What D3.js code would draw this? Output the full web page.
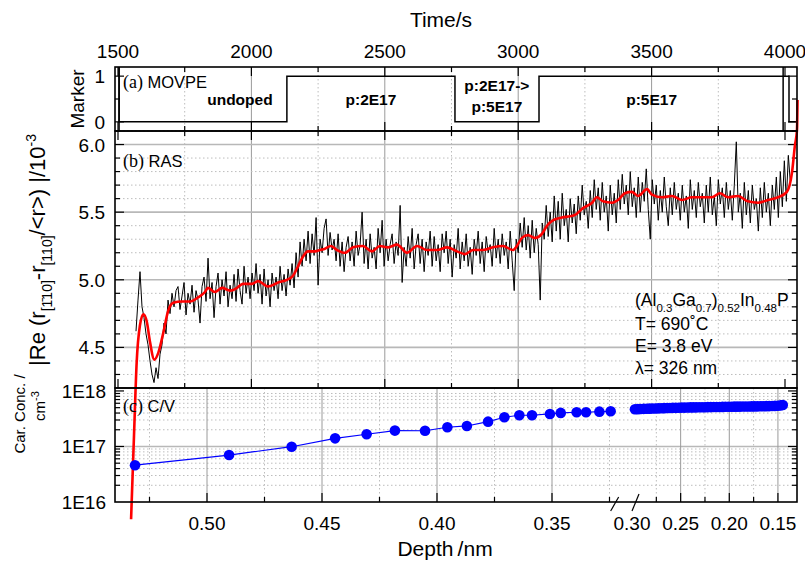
<!DOCTYPE html>
<html>
<head>
<meta charset="utf-8">
<script src="https://cdn.jsdelivr.net/npm/d3@7"></script>
<style>
  body { margin: 0; background: #fff; }
  text { font-family: "Liberation Sans", Arial, sans-serif; fill: #000; }
</style>
</head>
<body>
<svg id="chart" width="805" height="563"></svg>
<script>
// ---- data ----

// panel (a): growth marker (time in s, marker value)
const markerTime = [1504, 1504, 2133, 2763, 3078, 4015, 4045];
const markerValue = [1.2, 0, 1, 0, 1, 0, 0];
const markerEdges = [1504, 3993];
const markerLabels = [
  { t: 1957, lines: ["undoped"] },
  { t: 2448, lines: ["p:2E17"] },
  { t: 2920, lines: ["p:2E17->", "p:5E17"] },
  { t: 3500, lines: ["p:5E17"] }
];

// panel (b): raw RAS signal, sampled every rasStep seconds from rasStart
const rasStart = 1567.5, rasStep = 7.5;
const rasRaw = [
  4.62, 4.85, 5.06, 4.80, 4.72, 4.60, 4.52, 4.40, 4.30, 4.24,
  4.35, 4.27, 4.45, 4.52, 4.68, 4.60, 4.85, 4.75, 4.90, 4.80, 4.92,
  4.95, 4.78, 4.88, 4.98, 4.74, 4.90, 4.82, 4.96, 4.76, 4.92,
  4.85, 4.68, 4.95, 5.02, 4.84, 5.16, 4.86, 4.98, 4.72, 4.95,
  5.05, 4.82, 5.00, 4.88, 5.06, 4.80, 4.96, 4.86, 5.04, 4.84,
  5.08, 4.92, 4.82, 5.10, 4.90, 5.02, 4.86, 5.05, 4.92, 5.12,
  4.90, 5.04, 4.82, 5.08, 4.88, 5.00, 4.80, 5.05, 4.92, 5.02,
  4.86, 5.10, 4.92, 5.04, 4.88, 5.08, 4.96, 5.12, 4.94, 5.20,
  5.02, 5.28, 5.10, 5.30, 5.14, 5.36, 5.12, 5.34, 5.18, 5.46,
  4.96, 5.30, 5.20, 5.38, 5.45, 5.18, 5.35, 5.22, 5.30, 5.14,
  5.34, 5.10, 5.28, 5.06, 5.24,
  5.32, 5.14, 5.28, 5.10, 5.36, 5.18, 5.26, 5.50, 5.12, 5.30,
  5.08, 5.34, 5.16, 5.24, 5.08, 5.38, 5.20, 5.44, 5.10, 5.30,
  5.14, 5.26, 5.34, 5.12, 5.28, 5.18, 5.55, 4.98, 5.24, 5.10,
  5.32, 5.16, 5.38, 5.08, 5.26, 5.34, 5.12, 5.30, 5.06, 5.28,
  5.18, 5.36, 5.10, 5.32, 5.14, 5.26, 5.06, 5.34, 5.20, 5.36,
  5.12, 5.30, 5.02, 5.26, 5.16, 5.38, 5.08, 5.28, 5.14, 5.34,
  5.10, 5.24, 5.04, 5.30, 5.18, 5.36, 5.12, 5.28, 5.06, 5.32,
  5.20, 5.26, 5.10, 5.38, 5.16, 5.30, 5.12, 5.34, 5.18, 5.28,
  5.08, 5.36, 5.14, 4.92, 5.30, 5.20, 5.42,
  5.24, 5.46, 5.22, 5.40, 5.16, 5.44, 5.20, 5.38, 5.26, 4.85,
  5.42, 5.30, 5.55, 5.32, 5.50, 5.28, 5.62, 5.36, 5.58, 5.30,
  5.64, 5.40, 5.52, 5.28, 5.60,
  5.42, 5.56, 5.34, 5.62, 5.44, 5.70, 5.48, 5.58, 5.38, 5.66,
  5.46, 5.74, 5.52, 5.68, 5.44, 5.72, 5.50, 5.62, 5.36, 5.70,
  5.48, 5.64, 5.42, 5.74, 5.52, 5.78, 5.56, 5.70, 5.48, 5.80,
  5.54, 5.68, 5.46, 5.76, 5.50, 5.72, 5.58, 5.82, 5.52, 5.30,
  5.74, 5.56, 5.70, 5.44, 5.66, 5.50, 5.76, 5.54, 5.40, 5.68,
  5.48, 5.72, 5.52, 5.64, 5.44, 5.70, 5.50, 5.62, 5.38, 5.74,
  5.52, 5.66, 5.46, 5.72, 5.54, 5.64, 5.42, 5.70, 5.50, 5.76,
  5.48, 5.62, 5.40, 5.74, 5.56, 5.68, 5.46, 5.72, 5.52, 5.66,
  5.44, 5.70, 6.02, 5.50, 5.64, 5.38, 5.72, 5.48, 5.66, 5.42,
  5.70, 5.52, 5.60, 5.36, 5.68, 5.46, 5.72, 5.50, 5.64, 5.40,
  5.70, 5.52, 5.76, 5.46, 5.80, 5.54, 5.88, 5.58, 5.92, 5.72
];

// panel (b): smoothed RAS (red)
const smoothTime = [1549, 1560, 1570, 1582, 1595, 1608, 1620, 1636, 1651, 1670,
  1688, 1707, 1739, 1770, 1800, 1826, 1837, 1863, 1890, 1920,
  1946, 1968, 2002, 2025, 2062, 2100, 2133, 2156, 2175, 2193,
  2212, 2238, 2257, 2276, 2298, 2321, 2351, 2381, 2418, 2452,
  2482, 2512, 2546, 2583, 2621, 2658, 2696, 2733, 2771, 2801,
  2831, 2868, 2905, 2943, 2980, 2995, 3014, 3037, 3063, 3089,
  3108, 3130, 3164, 3194, 3213, 3243, 3277, 3295, 3318, 3352,
  3374, 3400, 3426, 3449, 3483, 3501, 3539, 3576, 3614, 3651,
  3689, 3726, 3756, 3786, 3824, 3861, 3899, 3936, 3974, 4007,
  4026, 4037, 4045, 4047];
const smoothValue = [3.23, 3.85, 4.39, 4.66, 4.745, 4.69, 4.54, 4.41, 4.46, 4.61,
  4.77, 4.83, 4.84, 4.84, 4.87, 4.91, 4.94, 4.91, 4.94, 4.92,
  4.94, 4.97, 4.97, 4.99, 4.95, 4.98, 5.00, 5.03, 5.10, 5.17,
  5.21, 5.21, 5.22, 5.23, 5.25, 5.22, 5.20, 5.24, 5.25, 5.21,
  5.25, 5.24, 5.26, 5.20, 5.25, 5.22, 5.22, 5.24, 5.21, 5.19,
  5.22, 5.22, 5.24, 5.25, 5.22, 5.25, 5.31, 5.33, 5.31, 5.34,
  5.40, 5.44, 5.46, 5.47, 5.48, 5.53, 5.57, 5.61, 5.58, 5.57,
  5.59, 5.64, 5.65, 5.62, 5.67, 5.63, 5.61, 5.62, 5.59, 5.61,
  5.61, 5.61, 5.64, 5.61, 5.62, 5.58, 5.57, 5.59, 5.61, 5.65,
  5.79, 5.99, 6.11, 6.33];

// panel (c): C/V carrier concentration vs depth (nm, cm^-3)
const cvDepthDeep = [0.5313, 0.4904, 0.4632, 0.4443, 0.4306, 0.4183, 0.4052, 0.3955, 0.3870, 0.3778,
  0.3707, 0.3642, 0.3587, 0.3509, 0.3462, 0.3393, 0.3352, 0.3294, 0.3245];
const cvConcDeep = [4.6e16, 7.0e16, 9.9e16, 1.40e17, 1.66e17, 1.93e17, 1.92e17, 2.22e17, 2.34e17, 2.80e17,
  3.36e17, 3.65e17, 3.65e17, 3.85e17, 4.02e17, 4.13e17, 4.13e17, 4.24e17, 4.30e17];
const cvDepthShallow = [0.297, 0.294, 0.291, 0.288, 0.285, 0.282, 0.279, 0.276, 0.273, 0.270,
  0.267, 0.264, 0.261, 0.258, 0.255, 0.252, 0.249, 0.246, 0.243, 0.240,
  0.237, 0.234, 0.231, 0.228, 0.225, 0.222, 0.219, 0.216, 0.213, 0.210,
  0.207, 0.204, 0.201, 0.198, 0.195, 0.192, 0.189, 0.186, 0.183, 0.180,
  0.177, 0.174, 0.171, 0.168, 0.165, 0.162, 0.159, 0.156, 0.153, 0.150,
  0.147, 0.145];
const cvConcShallow = [4.68e17, 4.70e17, 4.74e17, 4.76e17, 4.77e17, 4.80e17, 4.83e17, 4.84e17, 4.86e17, 4.89e17,
  4.90e17, 4.92e17, 4.93e17, 4.96e17, 4.96e17, 4.98e17, 5.01e17, 5.01e17, 5.02e17, 5.05e17,
  5.05e17, 5.06e17, 5.09e17, 5.09e17, 5.10e17, 5.12e17, 5.12e17, 5.13e17, 5.15e17, 5.15e17,
  5.16e17, 5.18e17, 5.18e17, 5.19e17, 5.21e17, 5.21e17, 5.22e17, 5.24e17, 5.24e17, 5.25e17,
  5.27e17, 5.27e17, 5.28e17, 5.30e17, 5.31e17, 5.32e17, 5.34e17, 5.36e17, 5.38e17, 5.42e17,
  5.50e17, 5.60e17];

// axis ticks
const timeMajor = [1500, 2000, 2500, 3000, 3500, 4000];
const timeMinor = [1750, 2250, 2750, 3250, 3750];
const markerTicks = [0, 1];
const rasMajor = [4.5, 5.0, 5.5, 6.0];
const rasMinor = [4.3, 4.4, 4.6, 4.7, 4.8, 4.9, 5.1, 5.2, 5.3, 5.4, 5.6, 5.7, 5.8, 5.9, 6.1];
const concMajor = [1e16, 1e17, 1e18];
const depthLabels = [0.50, 0.45, 0.40, 0.35, 0.30, 0.25, 0.20, 0.15];
const depthGrid = [0.50, 0.45, 0.40, 0.35, 0.25, 0.20, 0.15];
const depthMinor = [0.525, 0.475, 0.425, 0.375, 0.325, 0.275, 0.225, 0.175];

// ---- layout ----
const svg = d3.select("#chart");
const L = 115, R = 797;
const aTop = 67, aBot = 131, bBot = 388, cBot = 502;

const x = d3.scaleLinear().domain([1500, 4000]).range([118, 785]);
const yA = d3.scaleLinear().domain([-0.2, 1.2]).range([aBot, aTop]);
const yB = d3.scaleLinear().domain([4.2, 6.1]).range([bBot, aBot]);
const yC = d3.scaleLog().domain([1e16, 1.13e18]).range([cBot, bBot]);
// broken depth axis: two linear pieces
const depth = d3.scaleLinear().domain([0.54, 0.322, 0.307, 0.1304]).range([L, 616.4, 625.2, R]);

const grid = svg.append("g");
const majorGrid = { stroke: "#9a9a9a", "stroke-width": 1 };
const hMajorGrid = { stroke: "#b8b8b8", "stroke-width": 1.6 };
const minorGrid = { stroke: "#bdbdbd", "stroke-width": 1, "stroke-dasharray": "1.5,2.5" };

function vLines(g, vals, scale, y0, y1, style) {
  g.selectAll(null).data(vals).enter().append("line")
    .attr("x1", d => scale(d)).attr("x2", d => scale(d))
    .attr("y1", y0).attr("y2", y1)
    .each(function() { for (const k in style) d3.select(this).attr(k, style[k]); });
}
function hLines(g, vals, scale, x0, x1, style) {
  g.selectAll(null).data(vals).enter().append("line")
    .attr("y1", d => scale(d)).attr("y2", d => scale(d))
    .attr("x1", x0).attr("x2", x1)
    .each(function() { for (const k in style) d3.select(this).attr(k, style[k]); });
}

// grids
vLines(grid, timeMajor.slice(1, 5), x, aTop, bBot, majorGrid);
vLines(grid, timeMinor, x, aTop, bBot, minorGrid);
hLines(grid, rasMinor, yB, L, R, minorGrid);
hLines(grid, rasMajor, yB, L, R, hMajorGrid);

const concMinor = [];
[1e16, 1e17].forEach(b => { for (let k = 2; k <= 9; k++) concMinor.push(b * k); });
hLines(grid, concMinor, yC, L, R, minorGrid);
hLines(grid, [1e17], yC, L, R, hMajorGrid);
vLines(grid, depthGrid, depth, bBot, cBot, majorGrid);
vLines(grid, depthMinor, depth, bBot, cBot, minorGrid);

// ticks (inward)
const ticks = svg.append("g").attr("stroke", "#000").attr("stroke-width", 1.2);
function tickV(vals, scale, y, len) {
  ticks.selectAll(null).data(vals).enter().append("line")
    .attr("x1", d => scale(d)).attr("x2", d => scale(d))
    .attr("y1", y).attr("y2", y + len);
}
function tickH(vals, scale, xPos, len) {
  ticks.selectAll(null).data(vals).enter().append("line")
    .attr("y1", d => scale(d)).attr("y2", d => scale(d))
    .attr("x1", xPos).attr("x2", xPos + len);
}
[[aTop, 1], [aBot, -1], [aBot, 1], [bBot, -1]].forEach(([y, s]) => {
  tickV(timeMajor, x, y, 9 * s);
  tickV(timeMinor, x, y, 5 * s);
});
[[L, 1], [R, -1]].forEach(([xp, s]) => {
  tickH(markerTicks, yA, xp, 9 * s);
  tickH([0.5], yA, xp, 5 * s);
  tickH(rasMajor, yB, xp, 9 * s);
  tickH(rasMinor, yB, xp, 5 * s);
  tickH([1e17, 1e18], yC, xp, 9 * s);
  tickH(concMinor, yC, xp, 5 * s);
});
tickV(depthGrid, depth, cBot, -9);
tickV(depthMinor, depth, cBot, -5);

// tick labels
const tickFont = "19px";
svg.append("g").selectAll("text").data(timeMajor).enter().append("text")
  .attr("x", d => x(d)).attr("y", 58).attr("text-anchor", "middle")
  .style("font-size", tickFont).text(d => d);
svg.append("g").selectAll("text").data(markerTicks).enter().append("text")
  .attr("x", 105).attr("y", d => yA(d) + 7).attr("text-anchor", "end")
  .style("font-size", tickFont).text(d => d);
svg.append("g").selectAll("text").data(rasMajor).enter().append("text")
  .attr("x", 105).attr("y", d => yB(d) + 7).attr("text-anchor", "end")
  .style("font-size", tickFont).text(d => d.toFixed(1));
svg.append("g").selectAll("text").data(concMajor).enter().append("text")
  .attr("x", 106).attr("y", d => yC(d) + 7).attr("text-anchor", "end")
  .style("font-size", tickFont).text(d => "1E" + Math.round(Math.log10(d)));
svg.append("g").selectAll("text").data(depthLabels).enter().append("text")
  .attr("x", d => depth(d)).attr("y", 530).attr("text-anchor", "middle")
  .style("font-size", tickFont).text(d => d.toFixed(2));

// axis break marks
const brk = svg.append("g").attr("stroke", "#000").attr("stroke-width", 1.2);
brk.append("line").attr("x1", depth(0.3245)).attr("y1", 511).attr("x2", depth(0.3245) + 8).attr("y2", 497);
brk.append("line").attr("x1", depth(0.3)).attr("y1", 511).attr("x2", depth(0.3) + 7).attr("y2", 494);

// ---- panel (a) ----
const markerLine = d3.line().x(d => x(d[0])).y(d => yA(d[1])).curve(d3.curveStepAfter);
svg.append("path").datum(markerTime.map((t, i) => [t, markerValue[i]]))
  .attr("d", markerLine).attr("fill", "none").attr("stroke", "#000").attr("stroke-width", 1.5);
vLines(svg, markerEdges, x, aTop, aBot, { stroke: "#000", "stroke-width": 1.5 });

markerLabels.forEach(m => {
  const n = m.lines.length;
  m.lines.forEach((s, i) => {
    svg.append("text").attr("x", x(m.t)).attr("y", n === 1 ? 105 : 91 + i * 21)
      .attr("text-anchor", "middle").style("font-size", "15.5px").style("font-weight", "bold").text(s);
  });
});

// ---- panel (b) ----
const rasLine = d3.line().x((d, i) => x(rasStart + i * rasStep)).y(d => yB(d));
svg.append("path").datum(rasRaw).attr("d", rasLine)
  .attr("fill", "none").attr("stroke", "#000").attr("stroke-width", 1);
const smoothLine = d3.line().x(d => x(d[0])).y(d => yB(d[1])).curve(d3.curveMonotoneX);
svg.append("path").datum(smoothTime.map((t, i) => [t, smoothValue[i]]))
  .attr("d", smoothLine).attr("fill", "none").attr("stroke", "#ff0000").attr("stroke-width", 2.6);

// ---- panel (c) ----
const cvLine = d3.line().x(d => depth(d[0])).y(d => yC(d[1]));
const deep = cvDepthDeep.map((d, i) => [d, cvConcDeep[i]]);
const shallow = cvDepthShallow.map((d, i) => [d, cvConcShallow[i]]);
[deep, shallow].forEach(seg => {
  svg.append("path").datum(seg).attr("d", cvLine)
    .attr("fill", "none").attr("stroke", "#0000ff").attr("stroke-width", 1.2);
  svg.append("g").selectAll("circle").data(seg).enter().append("circle")
    .attr("cx", d => depth(d[0])).attr("cy", d => yC(d[1])).attr("r", 5.3)
    .attr("fill", "#0000ff");
});

// frames
const frames = svg.append("g").attr("fill", "none").attr("stroke", "#000").attr("stroke-width", 1.6);
[[aTop, aBot], [aBot, bBot], [bBot, cBot]].forEach(([t, b]) => {
  frames.append("rect").attr("x", L).attr("y", t).attr("width", R - L).attr("height", b - t);
});

// panel titles
function panelTitle(y, tag, name) {
  const t = svg.append("text").attr("x", 123).attr("y", y).style("font-size", "16.5px");
  t.append("tspan").style("font-family", "'Liberation Serif', 'Times New Roman', serif").style("font-size", "18px").text(tag + " ");
  t.append("tspan").text(name);
}
panelTitle(88, "(a)", "MOVPE");
panelTitle(167, "(b)", "RAS");
panelTitle(412, "(c)", "C/V");

// sample annotation
const ann = svg.append("g").style("font-size", "17.5px");
const a1 = ann.append("text").attr("x", 635).attr("y", 306);
[["(Al", 0], ["0.3", 1], ["Ga", 0], ["0.7", 1], [")", 0], ["0.52", 1], ["In", 0], ["0.48", 1], ["P", 0]].forEach(([s, sub], i, arr) => {
  const prevSub = i > 0 ? arr[i - 1][1] : 0;
  a1.append("tspan").attr("dy", sub - prevSub === 1 ? 6 : sub - prevSub === -1 ? -6 : 0)
    .style("font-size", sub ? "11.5px" : "17.5px").text(s);
});
ann.append("text").attr("x", 635).attr("y", 330).text("T= 690\u02DAC");
ann.append("text").attr("x", 635).attr("y", 352).text("E= 3.8 eV");
ann.append("text").attr("x", 635).attr("y", 374).text("\u03BB= 326 nm");

// axis titles
svg.append("text").attr("x", 441).attr("y", 27).attr("text-anchor", "middle").style("font-size", "21px").text("Time/s");
svg.append("text").attr("x", 445).attr("y", 556).attr("text-anchor", "middle").style("font-size", "21px").text("Depth\u2009/nm");
svg.append("text").attr("transform", "translate(84,99) rotate(-90)").attr("text-anchor", "middle")
  .style("font-size", "19px").text("Marker");

const rl = svg.append("text").attr("transform", "translate(45,250) rotate(-90)")
  .attr("text-anchor", "middle").style("font-size", "22px");
rl.append("tspan").text("|Re (r");
rl.append("tspan").attr("dy", 7).style("font-size", "14px").text("[1\u030410]");
rl.append("tspan").attr("dy", -7).text("-r");
rl.append("tspan").attr("dy", 7).style("font-size", "14px").text("[110]");
rl.append("tspan").attr("dy", -7).text("/<r>) |/10");
rl.append("tspan").attr("dy", -9).style("font-size", "14px").text("-3");

const cl = svg.append("g").style("font-size", "15px");
cl.append("text").attr("transform", "translate(25,414) rotate(-90)").attr("text-anchor", "middle").text("Car. Conc. /");
const cm = cl.append("text").attr("transform", "translate(45,406) rotate(-90)").attr("text-anchor", "middle");
cm.append("tspan").text("cm");
cm.append("tspan").attr("dy", -6).style("font-size", "11px").text("-3");
</script>
</body>
</html>
